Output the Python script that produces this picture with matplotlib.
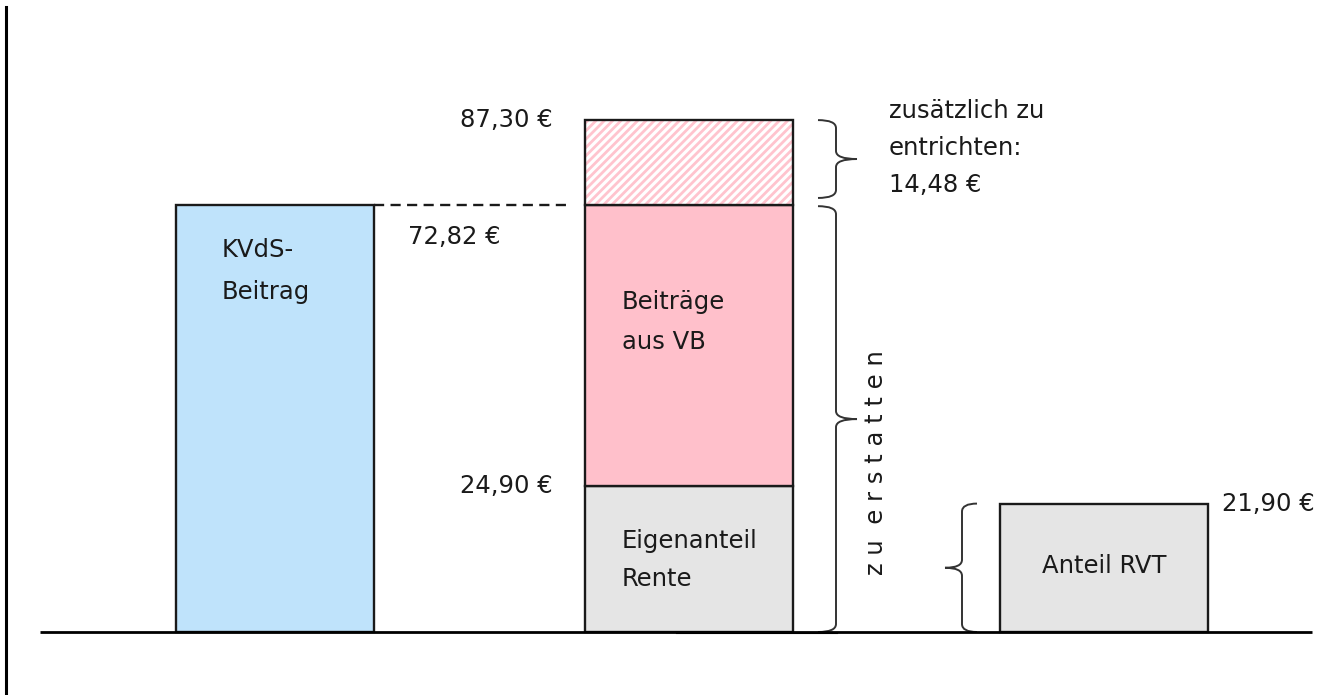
import matplotlib
matplotlib.use("Agg")
import matplotlib.pyplot as plt
from matplotlib.path import Path
from matplotlib.patches import PathPatch
from matplotlib.lines import Line2D

# ---------------- data ----------------
kvds_beitrag = 72.82          # KVdS-Beitrag
eigenanteil_rente = 24.90     # Eigenanteil Rente
beitraege_vb = 47.92          # Beiträge aus VB (24,90 -> 72,82)
zusaetzlich = 14.48           # zusätzlich zu entrichten (72,82 -> 87,30)
anteil_rvt = 21.90            # Anteil RVT
value_labels = ["87,30 €", "72,82 €", "24,90 €", "21,90 €"]
bar_texts = ["KVdS-\nBeitrag", "Beiträge\naus VB", "Eigenanteil\nRente", "Anteil RVT"]
side_text = "zusätzlich zu\nentrichten:\n14,48 €"
vertical_text = "z u  e r s t a t t e n"

# ---------------- layout ----------------
W, H = 1330, 695
BASE_PX = 632
K = 427 / 72.82             # pixels per euro
fig = plt.figure(figsize=(W / 100, H / 100), dpi=100)
ax = fig.add_axes([0, 0, 1, 1])
ax.set_xlim(0, W)
ax.set_ylim(-(H - BASE_PX) / K, BASE_PX / K)
ax.axis("off")

def py(ypx):
    """figure pixel row -> data value"""
    return (BASE_PX - ypx) / K

BLUE = "#bfe3fb"
PINK = "#ffc0cb"
GREY = "#e5e5e5"
HATCH = "#ffc4ce"
EDGE = "#1a1a1a"
LW = 1.7
FS = 17.5
TXT = "#1a1a1a"

x1, w1 = 275, 198
x2, w2 = 689, 208
x3, w3 = 1104, 208

ax.bar(x1, kvds_beitrag, width=w1, color=BLUE, edgecolor=EDGE, linewidth=LW, zorder=2)
ax.bar(x2, eigenanteil_rente, width=w2, color=GREY, edgecolor=EDGE, linewidth=LW, zorder=2)
ax.bar(x2, beitraege_vb, bottom=eigenanteil_rente, width=w2, color=PINK,
       edgecolor=EDGE, linewidth=LW, zorder=2)
top_mid = eigenanteil_rente + beitraege_vb
plt.rcParams["hatch.linewidth"] = 2.0
ax.bar(x2, zusaetzlich, bottom=top_mid, width=w2, color="white",
       edgecolor=HATCH, hatch="////", linewidth=0, zorder=2)
ax.bar(x2, zusaetzlich, bottom=top_mid, width=w2, fill=False,
       edgecolor=EDGE, linewidth=LW, zorder=3)
ax.bar(x3, anteil_rvt, width=w3, color=GREY, edgecolor=EDGE, linewidth=LW, zorder=2)

# baseline and left rule
ax.plot([40, 1312], [0, 0], color="black", linewidth=2, zorder=4, solid_capstyle="butt")
ax.plot([677, 837], [-0.25, -0.25], color="black", linewidth=1.5, zorder=4)
fig.add_artist(Line2D([6 / W, 6 / W], [0, 1 - 7 / H], transform=fig.transFigure,
                      color="black", linewidth=2.2))

# dashed connector
ax.plot([x1 + w1 / 2, 568], [kvds_beitrag, kvds_beitrag], color=EDGE,
        linewidth=1.7, linestyle=(0, (4.3, 2.7)), zorder=3)

def brace(xl, xs, xt, y0, y1, r=8, color="#333333", lw=1.4):
    ry = r / K
    ym = (y0 + y1) / 2
    verts = [(xl, y1), (xs, y1), (xs, y1 - ry),
             (xs, ym + ry), (xs, ym), (xt, ym),
             (xs, ym), (xs, ym - ry),
             (xs, y0 + ry), (xs, y0), (xl, y0)]
    codes = [Path.MOVETO, Path.CURVE3, Path.CURVE3,
             Path.LINETO, Path.CURVE3, Path.CURVE3,
             Path.CURVE3, Path.CURVE3,
             Path.LINETO, Path.CURVE3, Path.CURVE3]
    ax.add_patch(PathPatch(Path(verts, codes), fill=False, edgecolor=color,
                           linewidth=lw, zorder=3))

brace(818, 836, 857, top_mid + 1.2, top_mid + zusaetzlich)
brace(818, 836, 857, 0, top_mid - 0.2)
brace(977, 962, 945, 0, anteil_rvt)

# value labels
ax.text(553, top_mid + zusaetzlich, value_labels[0], ha="right", va="center",
        fontsize=FS, color=TXT)
ax.text(408, py(237), value_labels[1], ha="left", va="center", fontsize=FS, color=TXT)
ax.text(553, eigenanteil_rente, value_labels[2], ha="right", va="center",
        fontsize=FS, color=TXT)
ax.text(1222, anteil_rvt, value_labels[3], ha="left", va="center", fontsize=FS, color=TXT)

# bar texts
ax.text(222, py(271), bar_texts[0], ha="left", va="center", fontsize=FS,
        color=TXT, linespacing=1.95, zorder=5)
ax.text(622, py(322), bar_texts[1], ha="left", va="center", fontsize=FS,
        color=TXT, linespacing=1.85, zorder=5)
ax.text(622, py(560), bar_texts[2], ha="left", va="center", fontsize=FS,
        color=TXT, linespacing=1.75, zorder=5)
ax.text(x3, py(566), bar_texts[3], ha="center", va="center", fontsize=FS,
        color=TXT, zorder=5)
ax.text(889, py(148), side_text, ha="left", va="center", fontsize=FS,
        color=TXT, linespacing=1.7)
ax.text(876, py(463), vertical_text, ha="center", va="center", rotation=90,
        fontsize=FS, color=TXT)

fig.savefig("out.png", dpi=100, facecolor="white")
